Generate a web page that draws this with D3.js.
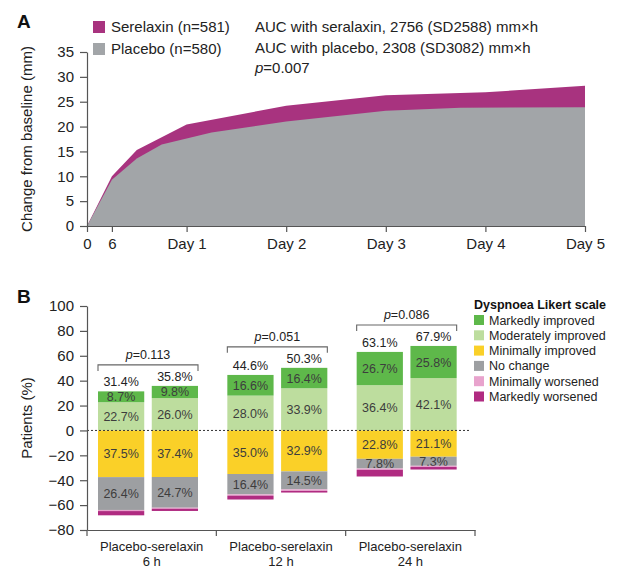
<!DOCTYPE html>
<html>
<head>
<meta charset="utf-8">
<script src="https://cdn.jsdelivr.net/npm/d3@7/dist/d3.min.js"></script>
<style>
  body { margin: 0; background: #fff; }
  svg { display: block; font-family: "Liberation Sans", Arial, Helvetica, sans-serif; }
</style>
</head>
<body>
<svg id="chart" width="617" height="571"></svg>
<script>
// ---------- Panel A data ----------
const hoursSerelaxin = [0, 6, 12, 24, 48, 72, 96, 120];
const valuesSerelaxin = [0, 10.0, 15.3, 20.4, 24.2, 26.3, 26.9, 28.2];
const hoursPlacebo = [0, 6, 12, 18, 30, 48, 72, 90, 120];
const valuesPlacebo = [0, 9.3, 13.6, 16.4, 18.8, 21.0, 23.2, 23.8, 23.9];
const xTickHours = [0, 6, 24, 48, 72, 96, 120];
const xTickLabels = ["0", "6", "Day 1", "Day 2", "Day 3", "Day 4", "Day 5"];
const yTicksA = [0, 5, 10, 15, 20, 25, 30, 35];
const legendA = ["Serelaxin (n=581)", "Placebo (n=580)"];

// ---------- Panel B data ----------
const groups = ["6 h", "12 h", "24 h"];
const arms = ["Placebo", "Serelaxin"];
const categories = ["Markedly improved", "Moderately improved", "Minimally improved",
                    "No change", "Minimally worsened", "Markedly worsened"];
// bar order: 6h placebo, 6h serelaxin, 12h placebo, 12h serelaxin, 24h placebo, 24h serelaxin
const markedlyImproved   = [8.7, 9.8, 16.6, 16.4, 26.7, 25.8];
const moderatelyImproved = [22.7, 26.0, 28.0, 33.9, 36.4, 42.1];
const minimallyImproved  = [37.5, 37.4, 35.0, 32.9, 22.8, 21.1];
const noChange           = [26.4, 24.7, 16.4, 14.5, 7.8, 7.3];
const minimallyWorsened  = [0.9, 0.8, 1.0, 1.2, 1.0, 1.0];
const markedlyWorsened   = [3.4, 1.8, 3.1, 1.3, 5.4, 2.0];
const pValues = ["0.113", "0.051", "0.086"];
const yTicksB = [-80, -60, -40, -20, 0, 20, 40, 60, 80, 100];

const colA = { serelaxin: "#a8337f", placebo: "#a2a5a8" };
const catColors = ["#5eb84a", "#bddd9e", "#fad028", "#9d9fa2", "#e8a3cd", "#b02b81"];

const svg = d3.select("#chart");
const axisColor = "#555";
const textColor = "#222";

function styleAxis(g, fs) {
  g.select(".domain").attr("stroke", axisColor).attr("stroke-width", 1.2);
  g.selectAll(".tick line").attr("stroke", axisColor).attr("stroke-width", 1.2);
  g.selectAll(".tick text").attr("fill", textColor).attr("font-size", fs)
    .attr("font-family", "Liberation Sans, Arial, sans-serif");
}

// ================= PANEL A =================
const xA = d3.scaleLinear().domain([0, 120]).range([87, 585]);
const yA = d3.scaleLinear().domain([0, 35]).range([226, 52]);

const serData = hoursSerelaxin.map((h, i) => ({ h, v: valuesSerelaxin[i] }));
const plaData = hoursPlacebo.map((h, i) => ({ h, v: valuesPlacebo[i] }));
const area = d3.area().x(d => xA(d.h)).y0(yA(0)).y1(d => yA(d.v));

svg.append("path").datum(serData).attr("d", area).attr("fill", colA.serelaxin);
svg.append("path").datum(plaData).attr("d", area).attr("fill", colA.placebo);

const gyA = svg.append("g").attr("transform", `translate(${xA(0)},0)`)
  .call(d3.axisLeft(yA).tickValues(yTicksA).tickSize(7).tickPadding(6).tickSizeOuter(0));
styleAxis(gyA, 15);
const gxA = svg.append("g").attr("transform", `translate(0,${yA(0)})`)
  .call(d3.axisBottom(xA).tickValues(xTickHours).tickFormat((d, i) => xTickLabels[i])
        .tickSize(6).tickPadding(6).tickSizeOuter(0));
styleAxis(gxA, 15);

svg.append("text").attr("transform", `translate(32,${(yA(0) + yA(35)) / 2}) rotate(-90)`)
  .attr("text-anchor", "middle").attr("font-size", 15).attr("fill", textColor)
  .text("Change from baseline (mm)");

svg.append("text").attr("x", 17).attr("y", 28).attr("font-size", 19)
  .attr("font-weight", "bold").attr("fill", "#111").text("A");

// legend A
[colA.serelaxin, colA.placebo].forEach((c, i) => {
  svg.append("rect").attr("x", 93).attr("y", 21 + i * 22).attr("width", 12).attr("height", 12).attr("fill", c);
  svg.append("text").attr("x", 111).attr("y", 32 + i * 22).attr("font-size", 15)
    .attr("fill", textColor).text(legendA[i]);
});
const aucLines = ["AUC with seralaxin, 2756 (SD2588) mm×h", "AUC with placebo, 2308 (SD3082) mm×h"];
aucLines.forEach((t, i) => {
  svg.append("text").attr("x", 255).attr("y", 32 + i * 21).attr("font-size", 15)
    .attr("fill", textColor).text(t);
});
const pA = svg.append("text").attr("x", 255).attr("y", 73).attr("font-size", 15).attr("fill", textColor);
pA.append("tspan").attr("font-style", "italic").text("p");
pA.append("tspan").text("=0.007");

// ================= PANEL B =================
const yB = d3.scaleLinear().domain([-80, 100]).range([530, 306]);
const x0 = d3.scaleBand().domain(groups).range([87, 475]);
const x1 = d3.scaleBand().domain(arms).range([11, 111]).paddingInner(0.14);

const series = [markedlyImproved, moderatelyImproved, minimallyImproved, noChange, minimallyWorsened, markedlyWorsened];

const bars = [];
groups.forEach((g, gi) => {
  arms.forEach((a, ai) => {
    const idx = gi * 2 + ai;
    const x = x0(g) + x1(a);
    // positive: moderately from 0 up, markedly on top
    const mod = moderatelyImproved[idx], mark = markedlyImproved[idx];
    const segs = [];
    segs.push({ cat: 1, y0: 0, y1: mod, v: mod });
    segs.push({ cat: 0, y0: mod, y1: mod + mark, v: mark });
    let cum = 0;
    [2, 3, 4, 5].forEach(ci => {
      const v = series[ci][idx];
      segs.push({ cat: ci, y0: -cum, y1: -(cum + v), v });
      cum += v;
    });
    bars.push({ g, a, idx, x, segs, total: mod + mark });
  });
});

const bw = x1.bandwidth();
bars.forEach(b => {
  b.segs.forEach(s => {
    const top = yB(Math.max(s.y0, s.y1)), bot = yB(Math.min(s.y0, s.y1));
    svg.append("rect").attr("x", b.x).attr("y", top).attr("width", bw)
      .attr("height", bot - top).attr("fill", catColors[s.cat]);
    if (s.cat <= 3) {
      svg.append("text").attr("x", b.x + bw / 2).attr("y", (top + bot) / 2 + 4.5)
        .attr("text-anchor", "middle").attr("font-size", 12.5).attr("fill", "#3d3d3d")
        .text(s.v.toFixed(1) + "%");
    }
  });
  svg.append("text").attr("x", b.x + bw / 2).attr("y", yB(b.total) - 5)
    .attr("text-anchor", "middle").attr("font-size", 12.5).attr("fill", textColor)
    .text(b.total.toFixed(1) + "%");
});

// brackets
groups.forEach((g, gi) => {
  const maxT = Math.max(bars[gi * 2].total, bars[gi * 2 + 1].total);
  const yb = yB(maxT) - 21;
  const xl = x0(g) + x1(arms[0]), xr = x0(g) + x1(arms[1]) + bw;
  svg.append("path").attr("d", `M${xl},${yb + 6}V${yb}H${xr}V${yb + 6}`)
    .attr("fill", "none").attr("stroke", "#666").attr("stroke-width", 1.1);
  const t = svg.append("text").attr("x", (xl + xr) / 2).attr("y", yb - 6)
    .attr("text-anchor", "middle").attr("font-size", 12.5).attr("fill", textColor);
  t.append("tspan").attr("font-style", "italic").text("p");
  t.append("tspan").text("=" + pValues[gi]);
});

// zero dotted line
svg.append("line").attr("x1", 87).attr("x2", 471).attr("y1", yB(0)).attr("y2", yB(0))
  .attr("stroke", "#333").attr("stroke-width", 1).attr("stroke-dasharray", "2,2");

const gyB = svg.append("g").attr("transform", `translate(87,0)`)
  .call(d3.axisLeft(yB).tickValues(yTicksB).tickSize(7).tickPadding(6).tickSizeOuter(0));
styleAxis(gyB, 15);

const gxB = svg.append("g").attr("transform", `translate(0,${yB(-80)})`)
  .call(d3.axisBottom(x0).tickValues([]).tickSizeOuter(0));
styleAxis(gxB, 13);
// group separator ticks
[87, ...groups.map(g => x0(g) + x0.bandwidth())].forEach(xv => {
  svg.append("line").attr("x1", xv).attr("x2", xv).attr("y1", yB(-80)).attr("y2", yB(-80) + 6)
    .attr("stroke", axisColor).attr("stroke-width", 1.2);
});
groups.forEach(g => {
  const cx = x0(g) + x0.bandwidth() / 2;
  const t = svg.append("text").attr("text-anchor", "middle").attr("font-size", 13).attr("fill", textColor);
  t.append("tspan").attr("x", cx).attr("y", 551).text(arms[0] + "-" + arms[1].toLowerCase());
  t.append("tspan").attr("x", cx).attr("y", 566).text(g);
});

svg.append("text").attr("transform", `translate(32,${(yB(-80) + yB(100)) / 2}) rotate(-90)`)
  .attr("text-anchor", "middle").attr("font-size", 15).attr("fill", textColor)
  .text("Patients (%)");

svg.append("text").attr("x", 17).attr("y", 303).attr("font-size", 19)
  .attr("font-weight", "bold").attr("fill", "#111").text("B");

// legend B
svg.append("text").attr("x", 474).attr("y", 309).attr("font-size", 12.5)
  .attr("font-weight", "bold").attr("fill", "#111").text("Dyspnoea Likert scale");
categories.forEach((c, i) => {
  const yy = 320 + i * 15.3;
  svg.append("rect").attr("x", 474).attr("y", yy - 5).attr("width", 10).attr("height", 10)
    .attr("fill", catColors[i]);
  svg.append("text").attr("x", 489).attr("y", yy + 4.5).attr("font-size", 12.5)
    .attr("fill", textColor).text(c);
});
</script>
</body>
</html>
